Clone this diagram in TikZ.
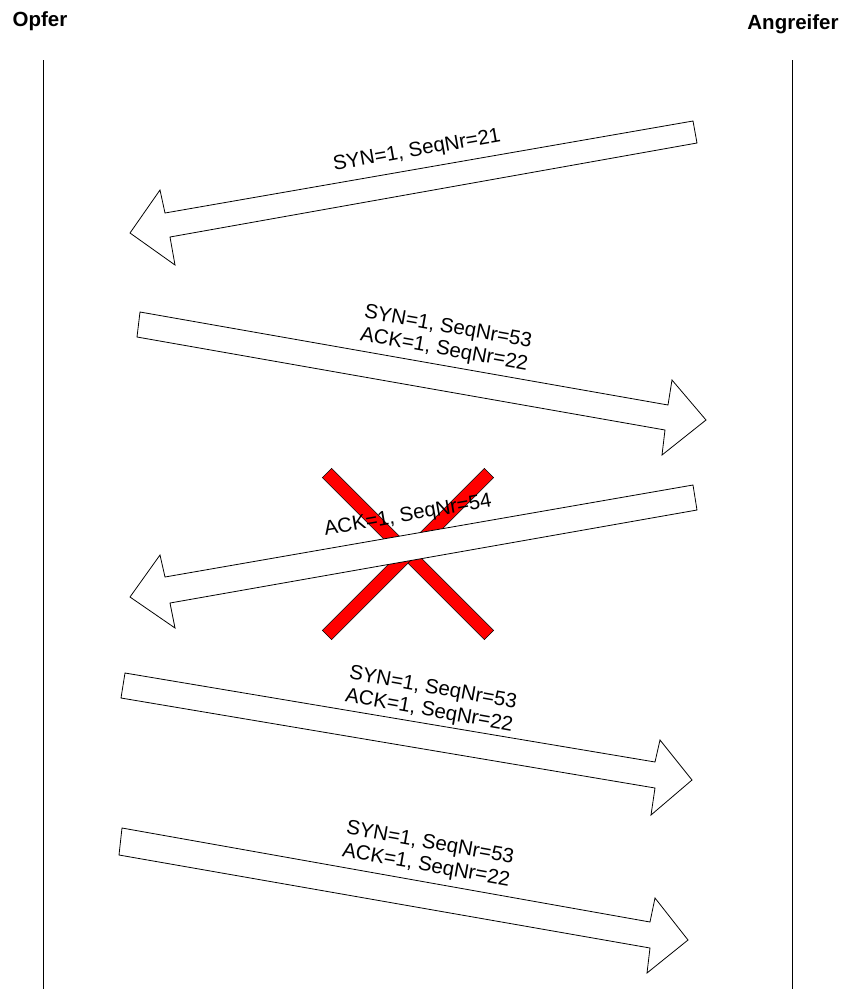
\documentclass[tikz,border=0pt]{standalone}
\usepackage{fontspec}
\setmainfont{Liberation Sans}
\begin{document}
\begin{tikzpicture}[x=1pt,y=-1pt,
  blockarrow/.style={draw=black,fill=white,line width=0.8pt,line join=miter},
  crossbar/.style={draw=black,fill=red,line width=0.6pt},
  lifeline/.style={draw=black,line width=0.8pt},
  msg/.style={font=\fontsize{20.5}{23}\selectfont,align=center,inner sep=0pt},
  actor/.style={font=\fontsize{20.5}{23}\selectfont\bfseries,inner sep=0pt,anchor=base}]
\useasboundingbox (0,0) rectangle (841,989);
% actors
\node[actor] (opfer) at (40,26) {Opfer};
\node[actor] (angr) at (793,29) {Angreifer};
\coordinate (o1) at (43,60); \coordinate (o2) at (43,989);
\coordinate (a1) at (792,60); \coordinate (a2) at (792,989);
\draw[lifeline] (o1) -- (o2);
\draw[lifeline] (a1) -- (a2);
% arrow 1 (left)
\draw[blockarrow] (693,121) -- (697,143) -- (170,237) -- (175,265) -- (130,233) -- (160,190) -- (165,213) -- cycle;
\node[msg,rotate=10] (m1) at (417,151) {SYN=1, SeqNr=21};
% arrow 2 (right)
\draw[blockarrow] (140,312) -- (668,405) -- (672,380) -- (706,420) -- (662,455) -- (665,430) -- (137,337) -- cycle;
\node[msg,rotate=-10] (m2) at (446,339) {SYN=1, SeqNr=53\\ACK=1, SeqNr=22};
% red cross
\draw[crossbar] (331.6,468.4) -- (322.4,477.6) -- (484.4,639.6) -- (493.6,630.4) -- cycle;
\draw[crossbar] (484.4,468.4) -- (493.6,477.6) -- (331.6,639.6) -- (322.4,630.4) -- cycle;
% arrow 3 (left)
\draw[blockarrow] (693,485) -- (697,510) -- (170,603) -- (175,628) -- (130,597) -- (160,555) -- (165,577) -- cycle;
\node[msg,rotate=10] (m3) at (408,516) {ACK=1, SeqNr=54};
% arrow 4 (right)
\draw[blockarrow] (125,673) -- (655,762) -- (660,740) -- (692,780) -- (651,815) -- (655,788) -- (121,698) -- cycle;
\node[msg,rotate=-10] (m4) at (431,700) {SYN=1, SeqNr=53\\ACK=1, SeqNr=22};
% arrow 5 (right)
\draw[blockarrow] (122,828) -- (650,922) -- (655,898) -- (688,940) -- (647,973) -- (650,948) -- (119,855) -- cycle;
\node[msg,rotate=-10] (m5) at (428,855) {SYN=1, SeqNr=53\\ACK=1, SeqNr=22};
\end{tikzpicture}
\end{document}
